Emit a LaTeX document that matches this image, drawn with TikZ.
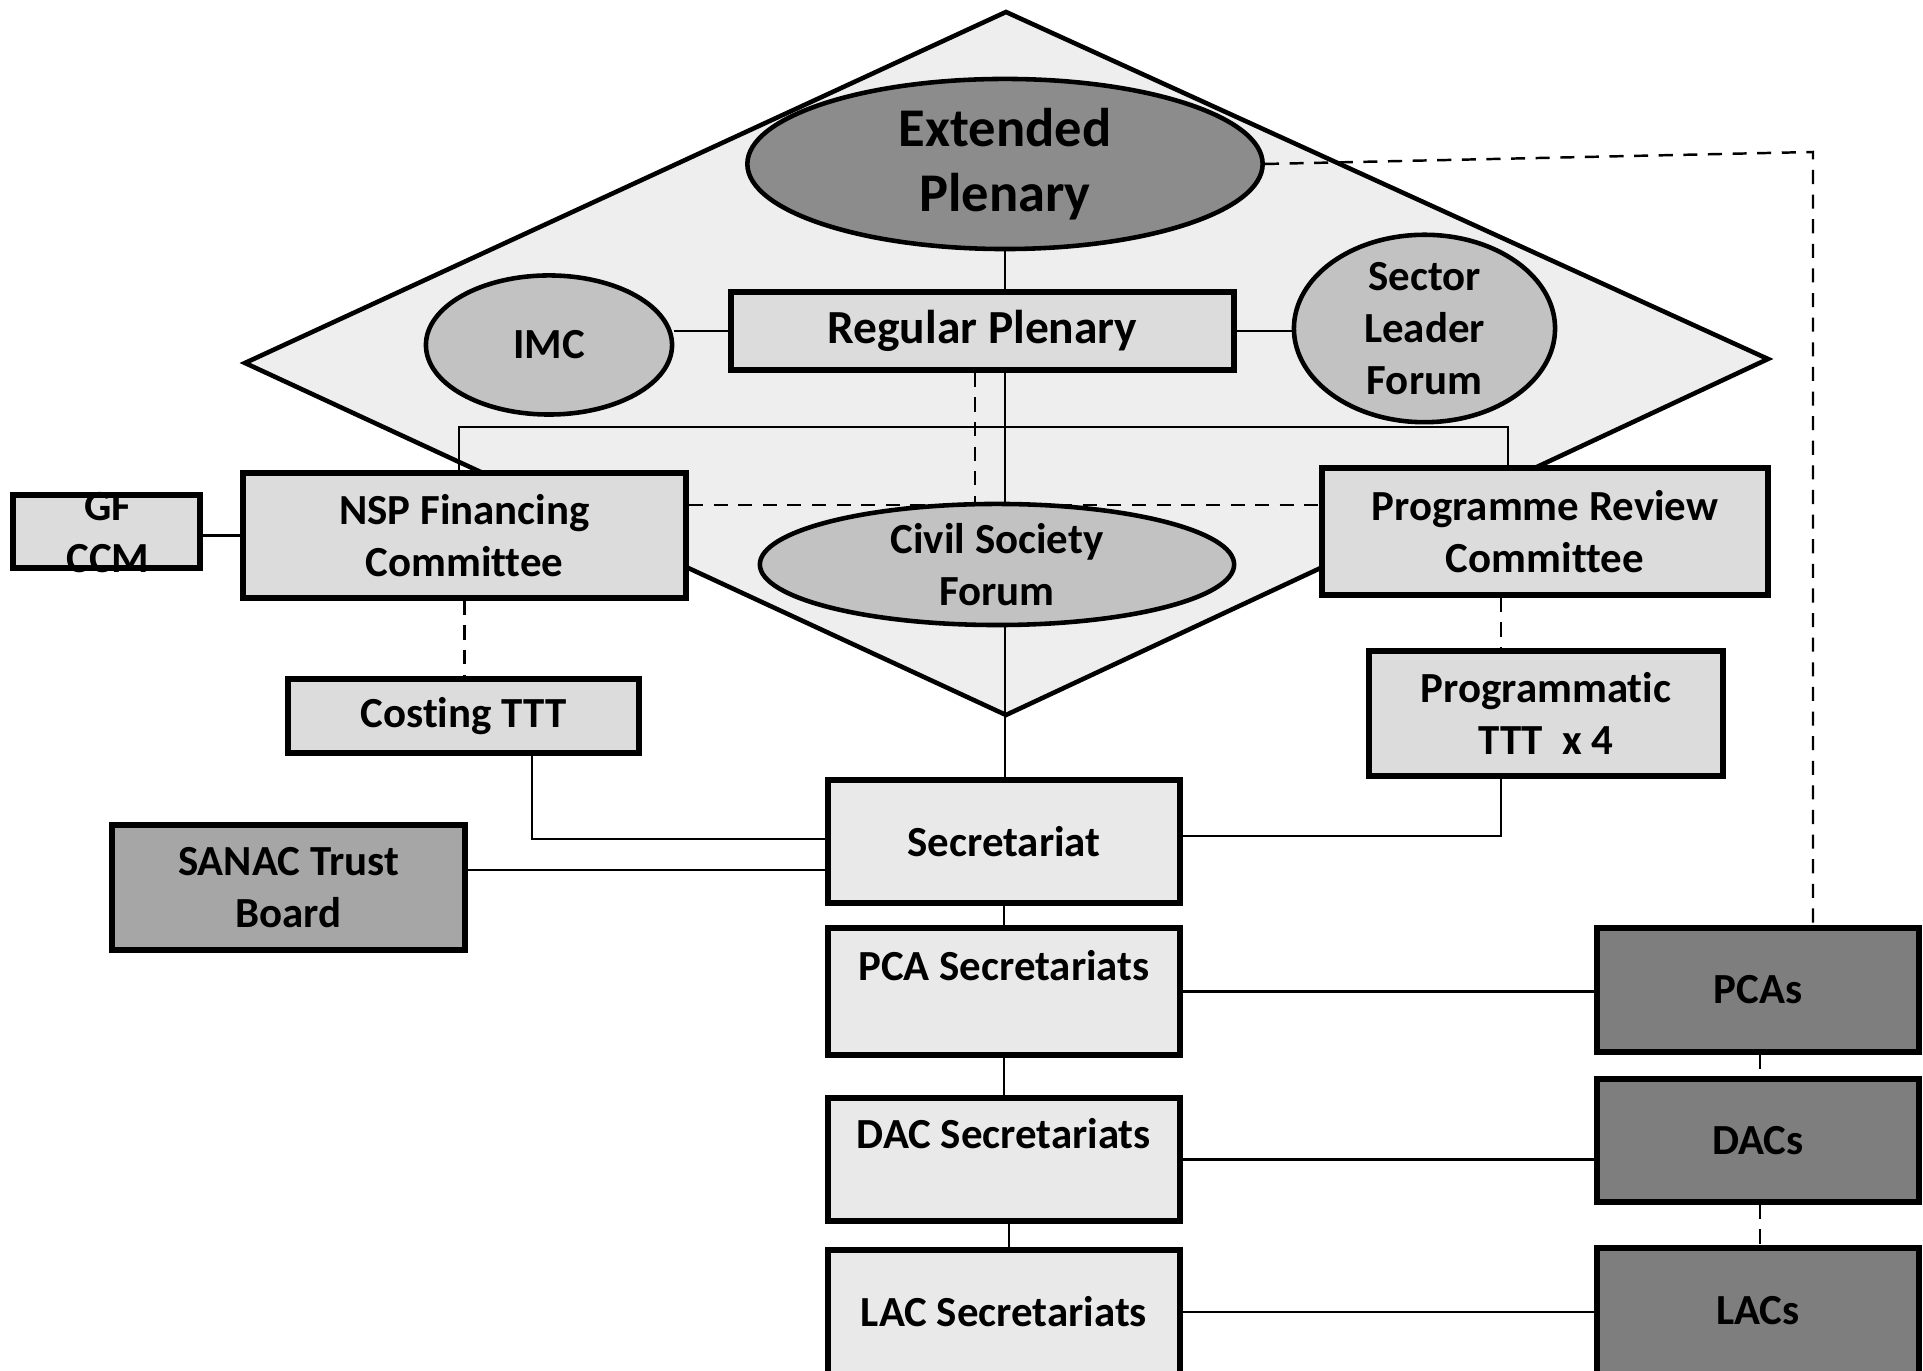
\documentclass[tikz,border=0pt]{standalone}
\usepackage{fontspec}
\setmainfont{Carlito}[Ligatures={NoCommon}]
\usetikzlibrary{shapes.geometric,backgrounds}
\pgfdeclarelayer{diam}
\pgfsetlayers{diam,background,main}
\definecolor{diamfill}{HTML}{EEEEEE}
\definecolor{boxfill}{HTML}{DCDCDC}
\definecolor{secfill}{HTML}{E9E9E9}
\definecolor{ellfill}{HTML}{C2C2C2}
\definecolor{epfill}{HTML}{8C8C8C}
\definecolor{sanacfill}{HTML}{A6A6A6}
\definecolor{acfill}{HTML}{7E7E7E}
\begin{document}
\begin{tikzpicture}[x=0.01cm,y=-0.01cm,
  txt/.style={font=\bfseries\fontsize{12.2}{14.8}\selectfont, align=center},
  box/.style={txt, draw, line width=1.6pt, fill=boxfill, inner sep=0pt},
  secbox/.style={box, fill=secfill},
  darkbox/.style={box, fill=acfill},
  ell/.style={txt, draw, ellipse, line width=1.3pt, fill=ellfill, inner sep=0pt},
  conn/.style={line width=0.7pt},
  dconn/.style={line width=0.7pt, dashed, dash pattern=on 4pt off 3pt}]
\useasboundingbox (0,0) rectangle (1923,1371);

% nodes
\node[ell, fill=epfill, minimum width=5.15cm, minimum height=1.70cm,
  font=\bfseries\fontsize{15.5}{18.6}\selectfont] (ep) at (1005,164) {Extended\\Plenary};
\node[box, minimum width=5.03cm, minimum height=0.78cm,
  font=\bfseries\fontsize{13.5}{16}\selectfont] (rp) at (982.5,331) {Regular Plenary};
\node[ell, minimum width=2.46cm, minimum height=1.39cm] (imc) at (549,345) {IMC};
\node[ell, minimum width=2.61cm, minimum height=1.67cm] (sl) at (1424.5,328.5) {Sector\\Leader\\Forum};
\node[box, minimum width=4.43cm, minimum height=1.25cm] (nsp) at (464.5,535.5) {NSP Financing\\Committee};
\node[box, minimum width=1.87cm, minimum height=0.73cm] (gf) at (106.5,531.5) {};
\node[txt] (gftext) at (108,533) {GF\\CCM};
\node[ell, minimum width=4.74cm, minimum height=1.21cm] (csf) at (997,564.5) {Civil Society\\Forum};
\node[box, minimum width=4.46cm, minimum height=1.27cm] (prc) at (1545,531.5) {Programme Review\\Committee};
\node[box, minimum width=3.54cm, minimum height=1.25cm] (prog) at (1546,713.5) {Programmatic\\TTT\ \ x 4};
\node[box, minimum width=3.51cm, minimum height=0.74cm] (cost) at (463.5,716) {Costing TTT};
\node[secbox, minimum width=3.52cm, minimum height=1.23cm] (sec) at (1004,841.5) {Secretariat};
\node[box, fill=sanacfill, minimum width=3.53cm, minimum height=1.25cm] (sanac) at (288.5,887.5) {SANAC Trust\\Board};
\node[secbox, minimum width=3.52cm, minimum height=1.27cm] (pcasec) at (1004,991.5) {PCA Secretariats\\\mbox{}};
\node[secbox, minimum width=3.52cm, minimum height=1.23cm] (dacsec) at (1004,1159.5) {DAC Secretariats\\\mbox{}};
\node[secbox, minimum width=3.52cm, minimum height=1.24cm] (lacsec) at (1004,1312) {LAC Secretariats};
\node[darkbox, minimum width=3.22cm, minimum height=1.24cm] (pcas) at (1758,990) {PCAs};
\node[darkbox, minimum width=3.22cm, minimum height=1.23cm] (dacs) at (1758,1140.5) {DACs};
\node[darkbox, minimum width=3.22cm, minimum height=1.26cm] (lacs) at (1758,1311) {LACs};

% diamond
\begin{pgfonlayer}{diam}
\coordinate (dT) at (1006,12);
\coordinate (dL) at (245,363);
\coordinate (dR) at (1768,359);
\coordinate (dB) at (1006,715);
\draw[line width=1.3pt, fill=diamfill, line join=miter] (dT) -- (dR) -- (dB) -- (dL) -- cycle;
\end{pgfonlayer}

% connectors
\begin{pgfonlayer}{background}
\draw[conn] (ep.south) -- (ep.south |- sec.north);
\draw[conn] (rp.west) -- (imc.east |- rp.west);
\draw[conn] (rp.east) -- (sl.west |- rp.east);
\coordinate (hL) at (459,427);
\coordinate (hR) at (1508,427);
\draw[conn] (nsp.north -| hL) -- (hL) -- (hR) -- (prc.north -| hR);
\coordinate (dj) at (975,505);
\draw[dconn] (dj |- rp.south) -- (dj);
\draw[dconn] (nsp.east |- dj) -- (prc.west |- dj);
\coordinate (epc) at (1813,152);
\draw[dconn] (ep.east) -- (epc) -- (epc |- pcas.north);
\draw[conn] (nsp.west) -- (gf.east |- nsp.west);
\draw[dconn] (nsp.south) -- (nsp.south |- cost.north);
\coordinate (pd) at (1501,600);
\draw[dconn] (pd |- prc.south) -- (pd |- prog.north);
\coordinate (cs) at (532,839);
\draw[conn] (cs |- cost.south) -- (cs) -- (cs -| sec.west);
\coordinate (ps) at (1501,836);
\draw[conn] (ps |- prog.south) -- (ps) -- (ps -| sec.east);
\coordinate (ss) at (465,870);
\draw[conn] (ss -| sanac.east) -- (ss -| sec.west);
\draw[conn] (sec.south) -- (pcasec.north);
\draw[conn] (pcasec.south) -- (dacsec.north);
\coordinate (dl) at (1009,1230);
\draw[conn] (dl |- dacsec.south) -- (dl |- lacsec.north);
\draw[conn] (pcasec.east) -- (pcasec.east -| pcas.west);
\draw[conn] (dacsec.east) -- (dacsec.east -| dacs.west);
\draw[conn] (lacsec.east) -- (lacsec.east -| lacs.west);
\coordinate (ad) at (1760,1070);
\draw[dconn] (ad |- pcas.south) -- (ad |- dacs.north);
\draw[dconn] (ad |- dacs.south) -- (ad |- lacs.north);
\end{pgfonlayer}
\end{tikzpicture}
\end{document}
